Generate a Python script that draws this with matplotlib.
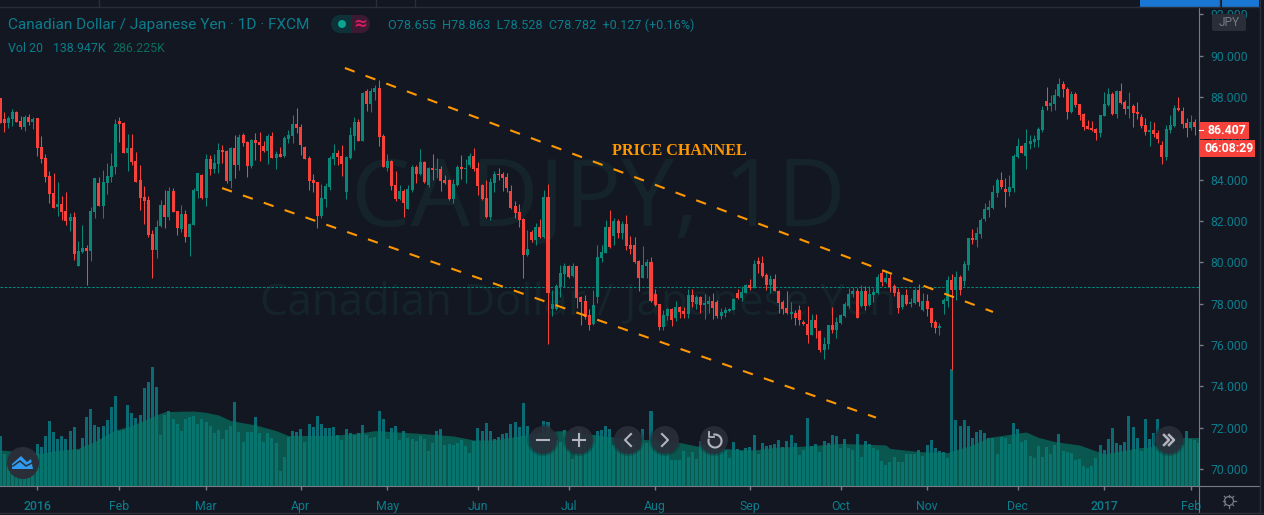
import numpy as np
import matplotlib
matplotlib.use("Agg")
import matplotlib.pyplot as plt
from matplotlib.patches import Circle, Rectangle, FancyBboxPatch, Polygon, Arc

# Datos
# ======================================================================================
opens = [
    87.93,86.93,86.74,86.93,87.27,86.84,86.55,87.03,86.79,86.98,
    85.58,85.05,84.17,83.35,82.67,82.82,82.48,82.00,82.19,79.82,
    80.50,80.69,80.55,82.43,83.84,82.72,83.84,84.13,84.61,86.84,
    86.74,85.29,85.53,84.90,83.98,83.16,83.01,81.37,80.60,81.76,
    82.77,82.19,83.45,82.48,81.61,82.34,81.22,81.80,83.45,84.22,
    83.11,85.00,84.51,84.76,85.43,85.38,83.93,85.53,84.71,86.16,
    85.82,84.66,85.92,85.82,85.63,85.38,86.11,85.05,85.24,85.14,
    85.97,86.11,86.69,86.55,85.58,85.05,83.98,83.88,82.24,83.06,
    83.64,85.00,85.29,85.14,83.40,85.05,86.11,86.79,85.87,88.29,
    87.66,88.24,88.43,86.11,84.56,84.90,83.74,83.06,83.46,82.58,
    83.50,84.61,84.27,84.85,83.74,84.56,84.48,84.51,83.98,83.98,
    83.06,83.74,84.61,84.51,84.71,85.14,84.56,83.74,83.11,82.19,
    83.84,84.27,84.27,84.13,83.45,82.72,82.43,82.09,80.35,81.46,
    81.08,81.71,81.22,83.16,77.74,77.74,78.80,79.43,79.82,79.34,
    79.82,78.32,78.13,77.45,77.01,78.32,80.21,80.45,81.71,81.27,
    82.00,81.42,81.85,80.84,80.84,80.06,79.24,79.82,80.01,78.46,
    77.98,76.87,77.40,77.74,77.30,77.84,77.64,77.50,78.42,77.98,
    78.32,77.93,77.98,78.13,78.08,77.40,77.55,77.64,77.69,78.51,
    78.27,78.51,78.90,78.75,80.06,79.96,79.38,78.90,79.19,78.61,
    78.08,77.79,77.50,77.55,77.69,77.12,77.04,76.48,77.20,76.67,
    75.75,76.04,76.95,76.75,77.07,77.40,77.88,78.46,78.61,77.88,
    78.61,77.93,78.41,78.51,79.48,79.04,79.24,78.85,78.56,77.83,
    78.41,77.98,78.03,78.65,77.69,78.12,77.78,77.11,76.83,77.98,
    78.12,79.14,78.65,79.28,79.09,79.86,81.17,81.07,81.36,82.09,
    82.53,82.62,83.35,83.98,83.54,83.40,83.59,85.09,85.62,85.14,
    85.72,85.82,85.91,86.40,87.80,87.56,87.65,88.04,88.62,88.38,
    87.27,88.14,87.65,87.17,86.59,86.49,86.45,86.25,87.07,87.61,
    88.14,87.17,88.28,87.75,87.41,87.56,87.27,87.03,86.64,86.30,
    86.40,86.25,85.67,85.09,86.40,86.59,87.46,87.32,86.74,86.49,86.78,
]
highs = [
    87.93,87.27,87.08,87.42,87.32,87.08,87.13,87.17,87.05,86.98,
    86.11,85.24,84.42,84.32,83.88,83.21,83.40,82.38,82.43,81.03,
    81.80,80.84,82.67,84.08,84.13,84.47,84.80,85.29,86.93,87.03,
    86.79,86.21,86.21,85.34,84.71,83.69,83.21,81.56,82.05,83.01,
    83.50,83.64,83.59,82.48,82.77,82.53,81.90,83.59,84.32,84.27,
    85.24,85.19,85.24,85.77,85.67,85.43,85.58,86.16,86.21,86.26,
    85.87,85.97,86.26,86.30,85.87,86.21,86.30,85.38,85.58,86.11,
    86.40,87.13,87.47,86.69,85.63,85.14,84.27,83.88,83.79,83.84,
    85.14,85.72,85.43,85.67,85.14,86.55,87.03,86.93,88.24,88.38,
    88.43,88.58,88.82,86.21,85.24,84.95,84.42,83.74,83.56,83.74,
    84.71,84.71,85.48,84.90,84.63,85.24,85.05,84.66,84.22,84.03,
    84.03,84.71,85.19,85.00,85.29,85.53,84.85,83.79,83.98,84.08,
    84.42,84.56,84.37,84.32,83.74,82.96,82.82,82.14,81.56,81.56,
    81.90,82.09,83.50,83.79,78.66,78.95,79.87,79.96,79.87,79.96,
    79.82,78.37,78.42,77.74,78.66,80.84,80.84,82.05,82.53,82.14,
    82.09,82.00,82.29,81.27,81.22,80.11,80.79,80.16,80.25,78.71,
    77.98,77.69,77.79,77.79,78.13,77.88,77.84,78.71,78.71,78.42,
    78.37,78.46,78.37,78.51,78.17,77.79,77.84,77.79,78.27,78.71,
    78.85,78.95,79.19,80.11,80.25,80.30,79.48,79.38,79.43,78.66,
    78.17,78.61,78.08,77.69,77.93,77.20,77.88,77.49,77.48,76.75,
    76.40,76.95,77.82,77.36,77.49,78.06,78.74,78.82,78.74,78.90,
    78.86,78.85,78.74,79.43,79.65,79.65,79.43,78.95,78.74,78.46,
    78.69,78.25,78.74,78.95,78.53,78.49,77.78,77.20,77.07,78.25,
    79.33,79.43,79.57,79.38,80.07,81.17,81.61,81.70,82.14,82.86,
    83.01,83.74,84.07,84.36,84.07,84.22,85.24,86.01,85.67,86.45,
    86.15,86.15,86.54,87.56,88.48,88.09,88.38,88.91,88.77,88.48,
    88.28,88.24,87.65,87.22,86.88,86.83,86.49,87.12,88.24,88.43,
    88.24,88.33,88.67,87.85,88.24,87.65,87.75,87.17,86.98,86.83,
    86.78,86.40,85.86,86.64,87.12,87.61,87.99,87.51,86.98,87.12,86.93,
]
lows = [
    86.72,86.32,86.51,86.59,86.79,86.45,86.37,86.64,86.45,85.14,
    84.80,83.88,82.87,82.63,82.24,82.05,81.80,81.51,80.11,79.82,
    80.47,78.90,80.06,82.14,82.72,82.14,83.30,83.88,84.27,85.82,
    85.29,84.42,84.71,83.88,82.53,81.85,81.22,79.24,80.21,81.71,
    81.66,82.05,82.43,81.32,81.47,80.98,80.30,81.80,83.11,83.06,
    82.72,84.22,84.32,84.32,84.80,83.84,83.59,84.08,84.47,85.63,
    84.13,84.56,84.95,84.90,85.34,84.76,85.05,84.51,85.09,85.09,
    85.77,85.77,86.26,85.19,85.00,83.50,83.40,81.66,82.14,82.67,
    83.50,84.71,84.71,84.17,83.06,85.00,85.43,85.87,85.87,87.32,
    87.27,87.85,85.63,84.61,84.42,83.50,82.97,83.01,82.17,82.58,
    83.40,83.82,84.22,83.84,83.66,83.98,84.08,83.45,83.79,83.01,
    82.87,83.69,84.03,83.84,84.61,84.42,83.25,83.01,82.14,82.05,
    83.40,83.98,83.45,83.40,82.58,82.14,81.71,79.24,80.30,80.98,
    80.84,81.17,81.17,76.05,77.40,77.69,78.32,78.80,79.24,79.27,
    77.79,76.96,77.25,76.72,76.96,78.03,80.01,80.45,80.69,80.84,
    81.17,81.13,80.59,80.40,79.96,78.61,79.24,79.24,78.08,77.88,
    76.72,76.72,77.21,76.92,77.16,77.30,77.30,77.30,77.84,77.74,
    77.55,77.25,77.55,77.25,77.30,77.25,77.35,77.59,77.69,78.22,
    78.13,78.51,78.66,78.75,79.48,79.29,78.66,78.51,78.61,77.55,
    77.50,77.50,77.25,76.96,76.96,76.96,76.11,76.48,76.36,75.65,
    75.33,75.82,76.56,76.32,77.04,77.36,77.80,78.33,77.30,77.85,
    77.69,77.90,78.09,78.46,78.85,78.98,78.57,78.36,77.56,77.75,
    77.93,77.82,77.98,77.88,77.65,77.40,76.88,76.59,76.48,77.49,
    77.85,74.78,78.20,78.41,78.85,79.62,80.88,80.75,81.17,82.00,
    82.20,82.57,83.15,83.57,82.67,83.20,83.40,85.04,85.28,84.51,
    85.48,85.57,85.57,86.30,87.36,87.32,87.36,87.99,87.99,86.93,
    87.22,87.51,86.88,86.40,86.45,86.35,85.91,86.07,87.07,87.56,
    87.12,86.98,87.65,87.17,86.98,86.56,86.93,86.49,86.15,85.62,
    86.06,85.77,84.75,84.95,86.25,86.54,87.32,86.49,86.06,86.40,86.15,
]
closes = [
    86.72,86.74,86.98,87.27,86.79,86.55,87.03,86.79,86.93,85.53,
    85.00,84.13,83.30,82.63,82.82,82.43,82.00,82.19,80.40,80.55,
    80.69,80.55,82.48,84.08,82.72,83.88,84.17,84.66,86.69,86.69,
    85.29,85.53,84.85,83.88,83.11,82.97,81.32,80.60,81.71,82.77,
    82.19,83.45,82.43,81.66,82.34,81.22,81.85,83.50,84.32,83.11,
    85.00,84.51,84.80,85.43,85.34,83.93,85.53,84.71,86.06,85.77,
    84.66,85.92,85.77,85.67,85.38,86.11,85.05,85.24,85.09,86.01,
    86.16,86.69,86.50,85.67,85.00,83.93,83.84,82.24,83.11,83.69,
    85.05,85.29,85.09,84.76,85.09,86.16,86.79,85.87,88.19,87.66,
    88.29,88.43,86.06,84.61,84.90,83.69,83.06,83.45,82.87,83.53,
    84.61,84.27,84.85,83.88,84.56,84.46,84.51,83.93,83.84,83.06,
    83.79,84.61,84.51,84.56,85.14,84.51,83.69,83.06,82.19,83.88,
    84.27,84.22,84.08,83.59,82.63,82.38,82.05,80.35,80.64,81.08,
    81.71,81.22,83.16,78.51,77.98,78.85,79.48,79.82,79.29,79.82,
    78.27,78.08,77.35,76.96,77.93,80.25,80.50,81.71,80.74,82.00,
    81.42,81.85,80.79,80.64,80.01,79.24,79.87,80.01,78.13,77.93,
    76.87,77.45,77.74,77.21,77.84,77.59,77.50,78.42,78.08,78.32,
    77.93,78.03,78.13,77.79,77.40,77.59,77.69,77.74,78.22,78.27,
    78.56,78.90,78.75,79.90,79.92,79.34,78.90,79.19,78.61,78.03,
    77.74,77.55,77.59,77.30,77.21,77.01,76.48,77.20,76.80,75.75,
    76.07,76.95,76.75,77.09,77.45,77.98,78.49,78.61,77.30,78.61,
    77.88,78.46,78.56,79.28,79.04,79.24,78.80,78.51,77.78,78.41,
    77.98,78.07,78.65,78.07,78.12,77.74,77.06,76.82,76.91,78.17,
    79.14,78.65,79.28,78.65,79.91,81.17,81.07,81.41,82.04,82.57,
    82.67,83.40,83.98,83.64,83.40,83.64,85.14,85.62,85.28,85.77,
    85.86,85.96,86.45,87.36,87.56,87.70,88.09,88.62,88.38,87.27,
    88.14,87.61,87.12,86.54,86.45,86.40,86.25,87.12,87.65,88.14,
    87.17,88.28,87.70,87.41,87.56,87.22,87.17,86.59,86.30,86.40,
    86.20,85.96,85.09,86.45,86.64,87.46,87.36,86.69,86.49,86.78,86.54,
]
# volumen en miles
volumes = [
    250,160,130,147,113,130,130,113,130,210,195,250,325,270,235,250,235,275,295,180,
    240,345,385,305,295,300,330,395,450,275,280,405,365,340,355,490,520,595,495,255,
    355,375,335,310,275,335,345,350,310,335,320,300,265,280,235,280,300,420,270,220,
    270,270,345,265,220,265,240,215,75,145,245,275,270,285,220,310,295,350,310,290,
    290,295,255,230,285,265,255,265,305,255,240,245,375,335,235,290,300,230,275,240,
    235,225,250,
    235,175,215,275,285,205,210,205,215,230,200,165,225,290,275,315,275,235,245,260,
    265,310,320,295,415,300,230,230,260,325,320,230,230,220,280,180,135,185,285,245,
    210,255,275,280,300,285,205,190,230,180,205,213,180,285,215,375,240,213,180,200,
    130,130,130,175,145,170,135,225,210,220,205,180,180,180,140,220,185,175,190,195,
    255,160,215,200,205,210,230,195,225,255,215,155,180,340,200,210,170,225,215,255,250,
    188,233,188,180,260,145,225,210,190,180,125,105,120,145,120,120,160,160,160,180,
    150,205,230,190,175,170,140,585,330,300,330,300,240,270,280,265,240,240,160,245,
    240,210,315,285,220,230,150,140,200,145,195,160,205,260,175,170,165,130,135,100,
    90,100,140,205,180,235,290,215,205,220,350,295,240,175,335,235,265,335,230,230,
    213,205,205,205,275,235,230,213,
]
ma_index = [0,2,10,13,19,23,28,32,38,40,47,50,53,56,62,67,70,81,88,91,102,110,115,120,126,
            132,137,142,150,158,164,169,173,178,183,188,196,204,215,216,223,230,232,236,240,
            249,252,256,262,268,277,279,285,291]
ma_values = [180,177,163,175,188,222,280,302,355,372,375,368,355,327,305,277,252,253,267,277,
             263,250,230,230,250,272,277,260,243,230,222,200,197,183,180,193,200,213,205,188,
             172,167,180,205,243,270,243,222,205,160,193,193,243,242]

month_pos = [9, 29, 50, 73, 94, 116, 138, 159, 182, 204, 225, 247, 268, 289]
month_labels = ["2016", "Feb", "Mar", "Apr", "May", "Jun", "Jul", "Aug", "Sep", "Oct", "Nov", "Dec", "2017", "Feb"]
price_ticks = [70, 72, 74, 76, 78, 80, 82, 84, 86, 88, 90, 92]
last_price = 78.782

channel_x = [83.7, 241.0]
channel_top = [89.40, 77.60]
channel_x2 = [53.9, 212.6]
channel_bottom = [83.59, 72.49]

# Colores
# ======================================================================================
BG = "#131722"
RED = "#f6423a"
GREEN = "#0a8778"
TEAL = "#0b7d8c"
GRAY = "#787b86"
LINE = "#2a2e39"
ORANGE = "#ff9800"

plt.rcParams["font.family"] = ["Roboto", "DejaVu Sans"]

fig = plt.figure(figsize=(12.64, 5.15), dpi=100, facecolor=BG)
W, H = 1264.0, 515.0
rect = [0, (515 - 486) / H, 1199 / W, (486 - 7) / H]

# Volumen
# ======================================================================================
ax_vol = fig.add_axes(rect, facecolor=BG, zorder=1)
ax_vol.bar(range(len(volumes)), volumes, width=0.73, color="#0a6b75", zorder=2)
ax_vol.fill_between(ma_index, ma_values, 0, color="#067b69", alpha=0.65, lw=0, zorder=3)
ax_vol.set_xlim(0, 291)
ax_vol.set_ylim(0, 2395)
ax_vol.axis("off")

ax_vol.text(598 / W, 1 - 201 / H, "CADJPY, 1D", transform=fig.transFigure, fontsize=68,
            color="#15232b", ha="center", va="center", family="Open Sans", zorder=1)
ax_vol.text(578 / W, 1 - 304 / H, "Canadian Dollar / Japanese Yen", transform=fig.transFigure, fontsize=31.5,
            color="#15232b", ha="center", va="center", family="Open Sans", zorder=1)

# Velas
# ======================================================================================
ax = fig.add_axes(rect, zorder=2)
ax.patch.set_alpha(0)
x = np.arange(len(opens))
o = np.array(opens)
c = np.array(closes)
up = c >= o
colors = np.where(up, GREEN, RED)
ax.vlines(x, lows, highs, colors=colors, linewidth=0.75, zorder=3)
ax.bar(x, np.maximum(np.abs(c - o), 0.05), bottom=np.minimum(o, c), width=0.73, color=colors, zorder=4)

ax.axhline(last_price, color="#00897b", lw=0.75, ls=(0, (2.5, 1.5)), zorder=2)

ax.plot(channel_x, channel_top, color=ORANGE, lw=1.5, ls=(0, (5.0, 5.6)), zorder=5)
ax.plot(channel_x2, channel_bottom, color=ORANGE, lw=1.5, ls=(0, (5.0, 5.6)), zorder=5)
ax.text(679 / W, 1 - 151 / H, "PRICE CHANNEL", transform=fig.transFigure, color=ORANGE, fontsize=11.6,
        fontweight="bold", family="Liberation Serif", ha="center", va="center", zorder=6)

ax.set_xlim(0, 291)
ax.set_ylim(69.18, 92.35)
ax.yaxis.tick_right()
ax.set_yticks(price_ticks)
ax.set_yticklabels([f"{p:.3f}" for p in price_ticks])
ax.set_xticks(month_pos)
ax.set_xticklabels(month_labels)
ax.tick_params(axis="y", colors=GRAY, labelcolor=TEAL, labelsize=8.8, length=3, width=1, pad=5, direction="out")
ax.tick_params(axis="x", colors=GRAY, labelcolor=TEAL, labelsize=8.8, length=3, width=1, pad=7, direction="out")
for lab in ax.get_xticklabels():
    if lab.get_text() in ("2016", "2017"):
        lab.set_fontweight("medium")
for side in ["left", "top"]:
    ax.spines[side].set_visible(False)
ax.spines["right"].set_color(GRAY)
ax.spines["bottom"].set_color(GRAY)
ax.spines["bottom"].set_linewidth(0.8)
ax.spines["right"].set_linewidth(0.8)

# Interfaz en pixeles
# ======================================================================================
ui = fig.add_axes([0, 0, 1, 1], zorder=5)
ui.set_xlim(0, W)
ui.set_ylim(H, 0)
ui.axis("off")
ui.patch.set_alpha(0)

ui.plot([1199, 1259], [486, 486], color=GRAY, lw=0.8)
ui.plot([1199, 1199], [486, 512], color=GRAY, lw=0.8)
ui.plot([0, 1259], [7, 7], color=LINE, lw=1)
ui.plot([0, 1264], [512.5, 512.5], color=LINE, lw=1)
ui.plot([1259.5, 1259.5], [0, 513], color=LINE, lw=1)
for sep in [99, 376, 415, 1220]:
    ui.plot([sep, sep], [0, 7], color=LINE, lw=1)
ui.add_patch(Rectangle((1140, 0), 119, 7, color="#1976d2", lw=0))
ui.plot([1220.5, 1220.5], [0, 7], color=BG, lw=0.7)

ui.text(8, 25, "Canadian Dollar / Japanese Yen · 1D · FXCM", color=TEAL, fontsize=11.1, va="center")
ui.text(388, 25, "O78.655  H78.863  L78.528  C78.782  +0.127 (+0.16%)", color=TEAL, fontsize=9.1, va="center")
ui.text(8, 48, "Vol 20", color=TEAL, fontsize=8.9, va="center")
ui.text(53, 48, "138.947K", color=TEAL, fontsize=8.9, va="center")
ui.text(112, 48, "286.225K", color="#0a6b5e", fontsize=8.9, va="center")

# indicadores de estado
ui.add_patch(FancyBboxPatch((340, 15), 12, 18, boxstyle="round,pad=0,rounding_size=0", color="#0d3238", lw=0))
ui.add_patch(Circle((340, 24), 9, color="#0d3238", lw=0))
ui.add_patch(Rectangle((351, 15), 10, 18, color="#3d1a33", lw=0))
ui.add_patch(Circle((361, 24), 9, color="#3d1a33", lw=0))
ui.add_patch(Circle((342, 24), 4, color="#0aa58f", lw=0))
ui.text(360, 24, "≈", color="#d81b60", fontsize=12, ha="center", va="center", fontweight="bold", family="DejaVu Sans")

# etiquetas del eje de precios
ui.add_patch(FancyBboxPatch((1212, 14), 34, 17, boxstyle="round,pad=0,rounding_size=2", color=LINE, lw=0))
ui.text(1229, 22.5, "JPY", color=GRAY, fontsize=8.6, ha="center", va="center")
ui.add_patch(Rectangle((1199, 122), 50, 17, color=RED, lw=0))
ui.plot([1199, 1203], [130, 130], color="white", lw=0.8)
ui.text(1208, 130.5, "86.407", color="white", fontsize=8.8, fontweight="bold", va="center")
ui.add_patch(Rectangle((1199, 140), 56, 17, color=RED, lw=0))
ui.text(1204, 148.5, "06:08:29", color="white", fontsize=8.8, fontweight="bold", va="center")

# botones
for bx in [543, 579, 628, 665, 714, 1169]:
    ui.add_patch(Circle((bx, 440), 16, color="#10141c", alpha=0.25, lw=0))
    ui.add_patch(Circle((bx, 440), 14, color="#2a2e39", alpha=0.88, lw=0))
btn = "#b2b5be"
ui.plot([537, 549], [440, 440], color=btn, lw=1.5)
ui.plot([573, 585], [440, 440], color=btn, lw=1.5)
ui.plot([579, 579], [434, 446], color=btn, lw=1.5)
ui.plot([631, 625, 631], [434, 440, 446], color=btn, lw=1.5)
ui.plot([662, 668, 662], [434, 440, 446], color=btn, lw=1.5)
ui.add_patch(Arc((715, 441), 13, 13, theta1=255, theta2=560, color=btn, lw=1.5))
ui.plot([709, 709, 714], [432, 437, 437], color=btn, lw=1.3)
ui.plot([1164, 1169, 1164], [435, 440, 445], color=btn, lw=1.8)
ui.plot([1169, 1174, 1169], [435, 440, 445], color=btn, lw=1.8)

# logo
ui.add_patch(Circle((23, 463), 16, color=LINE, lw=0))
ui.add_patch(Polygon([(12, 469), (12, 464), (21, 456), (27, 462), (31, 459), (33, 469)], color="#2f9bf0", lw=0))
ui.plot([13, 20, 26, 32], [466, 461, 466, 463], color=LINE, lw=1.1)

# engrane
ui.add_patch(Circle((1229, 501), 4.5, fill=False, ec=GRAY, lw=0.9))
for ang in np.arange(0, 360, 45):
    r = np.deg2rad(ang)
    ui.plot([1229 + 4.5 * np.cos(r), 1229 + 6.5 * np.cos(r)], [501 + 4.5 * np.sin(r), 501 + 6.5 * np.sin(r)],
            color=GRAY, lw=0.9)

fig.savefig("out.png", dpi=100, facecolor=BG)
